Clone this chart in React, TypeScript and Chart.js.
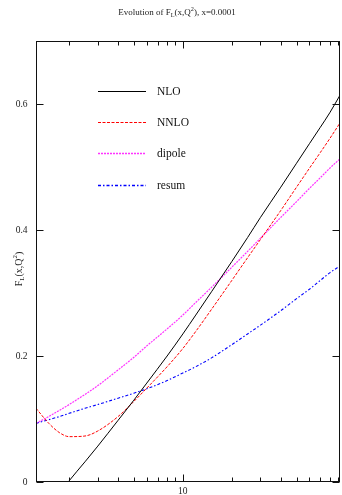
import React, { useEffect, useRef } from "react";
import { Chart, registerables } from "chart.js";

Chart.register(...registerables);

const Q2 = [1.25, 1.5, 1.75, 2, 2.5, 3, 4, 5, 6, 8, 10, 12, 15, 20, 25, 30, 40, 50, 60, 70, 80, 92.5];
const NLO = [-0.065, -0.038, -0.018, 0.002, 0.032, 0.057, 0.098, 0.13, 0.157, 0.2, 0.235, 0.265, 0.302, 0.35, 0.388, 0.42, 0.468, 0.506, 0.537, 0.563, 0.586, 0.614];
const NNLO = [0.117, 0.093, 0.078, 0.072, 0.073, 0.081, 0.104, 0.128, 0.149, 0.183, 0.212, 0.239, 0.274, 0.32, 0.356, 0.385, 0.431, 0.468, 0.498, 0.523, 0.545, 0.57];
const DIPOLE = [0.093, 0.104, 0.114, 0.123, 0.139, 0.153, 0.178, 0.198, 0.216, 0.243, 0.265, 0.285, 0.309, 0.341, 0.366, 0.387, 0.42, 0.445, 0.466, 0.483, 0.498, 0.513];
const RESUM = [0.093, 0.099, 0.104, 0.109, 0.117, 0.123, 0.133, 0.141, 0.148, 0.161, 0.173, 0.183, 0.197, 0.218, 0.235, 0.249, 0.272, 0.291, 0.306, 0.32, 0.332, 0.343];

const SERIES_NAMES = ["NLO", "NNLO", "dipole", "resum"];
const Y_TICKS = [0, 0.2, 0.4, 0.6];
const Y_TICK_LABELS = ["0", "0.2", "0.4", "0.6"];
const X_MAJOR = [10];
const X_MAJOR_LABELS = ["10"];
const X_MINOR = [2, 3, 4, 5, 6, 7, 8, 9, 20, 30, 40, 50, 60, 70, 80, 90];

const SERIF = '"Liberation Serif", "DejaVu Serif", serif';

const colors = ["#000000", "#ff0000", "#ff33ff", "#0000ff"];
const dashes: number[][] = [[], [3, 1.5], [2, 1], [3, 2, 1.5, 2]];
const widths = [1, 1, 1.2, 1.1];
const legendWidths = [1, 1, 1.4, 1.5];

function drawRich(ctx: CanvasRenderingContext2D, parts: { t: string; s?: "sub" | "sup" }[], size: number, cx: number, cy: number) {
  const small = size * 0.7;
  let total = 0;
  for (const p of parts) {
    ctx.font = `${p.s ? small : size}px ${SERIF}`;
    total += ctx.measureText(p.t).width;
  }
  let x = cx - total / 2;
  ctx.textBaseline = "middle";
  ctx.textAlign = "left";
  for (const p of parts) {
    ctx.font = `${p.s ? small : size}px ${SERIF}`;
    const dy = p.s === "sub" ? size * 0.3 : p.s === "sup" ? -size * 0.4 : 0;
    ctx.fillText(p.t, x, cy + dy);
    x += ctx.measureText(p.t).width;
  }
}

const decor = {
  id: "decor",
  afterDraw(chart: any) {
    const ctx: CanvasRenderingContext2D = chart.ctx;
    const a = chart.chartArea;
    const xs = chart.scales.x;
    const ys = chart.scales.y;
    ctx.save();
    ctx.strokeStyle = "#111";
    ctx.lineWidth = 1;
    ctx.setLineDash([]);
    const L = Math.round(a.left) + 0.5, R = Math.round(a.right) - 0.5, T = Math.round(a.top) + 0.5, B = Math.round(a.bottom) - 0.5;
    ctx.strokeRect(L, T, R - L, B - T);
    ctx.beginPath();
    for (const v of Y_TICKS) {
      const y = Math.round(ys.getPixelForValue(v)) + 0.5;
      ctx.moveTo(L, y); ctx.lineTo(L + 7, y);
      ctx.moveTo(R, y); ctx.lineTo(R - 7, y);
    }
    for (const v of X_MAJOR) {
      const x = Math.round(xs.getPixelForValue(v)) + 0.5;
      ctx.moveTo(x, B); ctx.lineTo(x, B - 7);
      ctx.moveTo(x, T); ctx.lineTo(x, T + 7);
    }
    for (const v of X_MINOR) {
      const x = Math.round(xs.getPixelForValue(v)) + 0.5;
      ctx.moveTo(x, B); ctx.lineTo(x, B - 4);
      ctx.moveTo(x, T); ctx.lineTo(x, T + 4);
    }
    ctx.stroke();

    ctx.fillStyle = "#222";
    ctx.font = `9.5px ${SERIF}`;
    ctx.textAlign = "right";
    ctx.textBaseline = "middle";
    Y_TICKS.forEach((v, i) => {
      ctx.fillText(Y_TICK_LABELS[i], 27.5, ys.getPixelForValue(v));
    });
    ctx.textAlign = "center";
    X_MAJOR.forEach((v, i) => {
      ctx.fillText(X_MAJOR_LABELS[i], xs.getPixelForValue(v), 491);
    });

    // title
    ctx.fillStyle = "#222";
    drawRich(ctx, [{ t: "Evolution of F" }, { t: "L", s: "sub" }, { t: "(x,Q" }, { t: "2", s: "sup" }, { t: "), x=0.0001" }], 9, 177, 13);

    // y axis title
    ctx.save();
    ctx.translate(19, 269);
    ctx.rotate(-Math.PI / 2);
    drawRich(ctx, [{ t: "F" }, { t: "L", s: "sub" }, { t: "(x,Q" }, { t: "2", s: "sup" }, { t: ")" }], 10, 0, 0);
    ctx.restore();

    // legend
    const rows = [91, 122, 153, 185];
    SERIES_NAMES.forEach((name, i) => {
      ctx.strokeStyle = colors[i];
      ctx.setLineDash(dashes[i]);
      ctx.lineWidth = legendWidths[i];
      ctx.beginPath();
      ctx.moveTo(98, rows[i] + 0.5);
      ctx.lineTo(146, rows[i] + 0.5);
      ctx.stroke();
      ctx.setLineDash([]);
      ctx.fillStyle = "#111";
      ctx.font = `11.5px ${SERIF}`;
      ctx.textAlign = "left";
      ctx.textBaseline = "middle";
      ctx.fillText(name, 157, rows[i] + 0.5);
    });
    ctx.restore();
  },
};

export default function App() {
  const ref = useRef<HTMLCanvasElement | null>(null);
  useEffect(() => {
    document.body.style.margin = "0";
    const seriesVals = [NLO, NNLO, DIPOLE, RESUM];
    const chart = new Chart(ref.current as HTMLCanvasElement, {
      type: "line",
      data: {
        datasets: seriesVals.map((vals, i) => ({
          label: SERIES_NAMES[i],
          data: Q2.map((q, j) => ({ x: q, y: vals[j] })),
          borderColor: colors[i],
          borderWidth: widths[i],
          borderDash: dashes[i],
          pointRadius: 0,
          fill: false,
          cubicInterpolationMode: "monotone" as const,
        })),
      },
      options: {
        responsive: false,
        animation: false,
        devicePixelRatio: 1,
        layout: { padding: { left: 36, top: 41, right: 2, bottom: 13 } },
        plugins: { legend: { display: false }, title: { display: false }, tooltip: { enabled: false } },
        scales: {
          x: { type: "logarithmic", min: 1.25, max: 92.5, display: false },
          y: { type: "linear", min: 0, max: 0.7, display: false },
        },
      },
      plugins: [decor],
    });
    return () => chart.destroy();
  }, []);
  return <canvas ref={ref} width={342} height={495} style={{ display: "block" }} />;
}
